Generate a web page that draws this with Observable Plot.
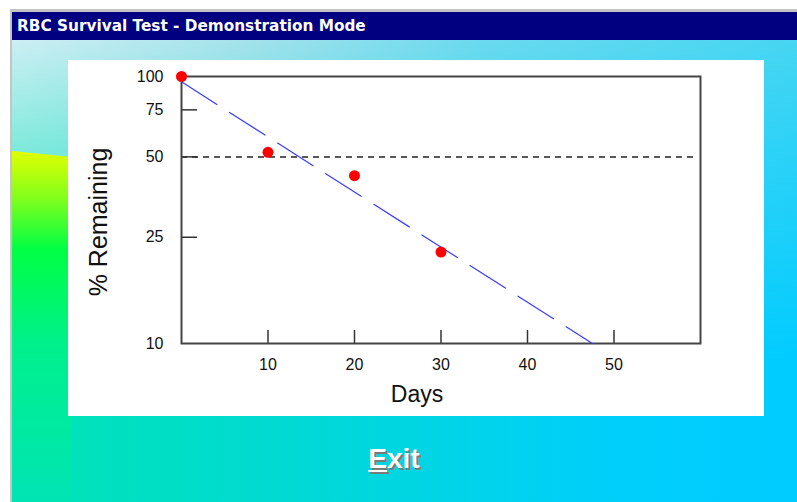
<!DOCTYPE html>
<html>
<head>
<meta charset="utf-8">
<script src="https://cdn.jsdelivr.net/npm/d3@7"></script>
<script src="https://cdn.jsdelivr.net/npm/@observablehq/plot@0.6"></script>
<style>
html, body { margin: 0; padding: 0; width: 797px; height: 502px; overflow: hidden; background: #fff; font-family: "Liberation Sans", Arial, sans-serif; }
#border { position: absolute; left: 10px; top: 9px; width: 787px; height: 493px; background: #c4c4c4; }
#titlebar { position: absolute; left: 12px; top: 12px; width: 785px; height: 28px; background: #000080; color: #fff; font-family: "DejaVu Sans", Verdana, sans-serif; font-weight: bold; font-size: 15.3px; line-height: 28px; box-sizing: border-box; padding-left: 5px; white-space: nowrap; }
#content { position: absolute; left: 12px; top: 40px; width: 785px; height: 462px; overflow: hidden;
  background: linear-gradient(to right, #00e4b4 0%, #00d8d8 40%, #00cffa 75%, #00ccff 100%); }
#toplayer { position: absolute; left: 0; top: 0; width: 100%; height: 100%;
  background: linear-gradient(to right, #cdeef3 0%, #a4e2ea 30%, #6ad9ee 60%, #46d5f2 100%);
  -webkit-mask-image: linear-gradient(to bottom, #000 0%, rgba(0,0,0,0.6) 25%, transparent 70%);
  mask-image: linear-gradient(to bottom, #000 0%, rgba(0,0,0,0.6) 25%, transparent 70%); }
#strip { position: absolute; left: 0; top: 111px; width: 60px; height: 351px;
  background: linear-gradient(to bottom, #e2ff00 0%, #7dff1e 14%, #00ff44 28%, #00f08c 55%, #00e4b4 100%);
  clip-path: polygon(0 0, 100% 6px, 100% 100%, 0 100%); }
#panel { position: absolute; left: 68px; top: 60px; width: 696px; height: 356px; background: #fff; }
#exit { position: absolute; left: 344px; top: 443px; width: 100px; text-align: center; color: #fff; font-weight: bold; font-size: 28px; letter-spacing: 0px; text-shadow: 2px 2px 0 #7a7a7a; }
#exit u { text-decoration-thickness: 2px; text-underline-offset: 2px; }
</style>
</head>
<body>
<div id="border"></div>
<div id="titlebar">RBC Survival Test - Demonstration Mode</div>
<div id="content"><div id="toplayer"></div><div id="strip"></div></div>
<div id="panel"></div>
<div id="exit"><u>E</u>xit</div>
<script>
// Measured survival points
const days = [0, 10, 20, 30];
const remaining = [100, 52, 42.5, 22];
// Fitted (log-linear) trend line end points
const fitDays = [0, 47.5];
const fitRemaining = [95.5, 10];
// Reference line (50 % remaining)
const halfValue = [50];
// Tick values
const yTicks = [10, 25, 50, 75, 100];
const yInnerTicks = [25, 50, 75];
const xTicks = [10, 20, 30, 40, 50];

const points = days.map((d, i) => ({day: d, pct: remaining[i]}));
const fit = fitDays.map((d, i) => ({day: d, pct: fitRemaining[i]}));

const frameW = 696 - 113 - 64;
const frameH = 356 - 16 - 73;

const chart = Plot.plot({
  width: 696,
  height: 356,
  marginLeft: 113,
  marginRight: 64,
  marginTop: 16,
  marginBottom: 73,
  style: {background: "white", fontFamily: "'Liberation Sans', Arial, sans-serif", color: "#111", overflow: "visible"},
  x: {domain: [0, 60]},
  y: {type: "log", domain: [10, 100]},
  marks: [
    Plot.ruleY(halfValue, {y: d => d, stroke: "#222", strokeWidth: 1.5, strokeDasharray: "6,5", insetRight: 4}),
    Plot.tickY(yInnerTicks, {y: d => d, stroke: "#333", strokeWidth: 1.5, insetRight: frameW - 16}),
    Plot.tickX(xTicks, {x: d => d, stroke: "#333", strokeWidth: 1.5, insetTop: frameH - 13}),
    Plot.frame({stroke: "#444", strokeWidth: 2}),
    Plot.line(fit, {x: "day", y: "pct", stroke: "#3a3aff", strokeWidth: 1.2, strokeDasharray: "42,15"}),
    Plot.dot(points, {x: "day", y: "pct", r: 5.5, fill: "#ff0000"}),
    Plot.axisY(yTicks, {tickSize: 0, tickPadding: 18, tickFormat: d => String(d), fontSize: 16, label: null}),
    Plot.axisX(xTicks, {tickSize: 0, tickPadding: 15, tickFormat: d => String(d), fontSize: 16, label: null}),
    Plot.text(["Days"], {text: d => d, frameAnchor: "bottom", textAnchor: "middle", lineAnchor: "middle", dx: -24, dy: 51, fontSize: 23, fill: "#111"}),
    Plot.text(["% Remaining"], {text: d => d, frameAnchor: "left", textAnchor: "middle", lineAnchor: "middle", rotate: -90, dx: -83, dy: 12, fontSize: 25, fill: "#111"})
  ]
});
document.getElementById("panel").appendChild(chart);
</script>
</body>
</html>
